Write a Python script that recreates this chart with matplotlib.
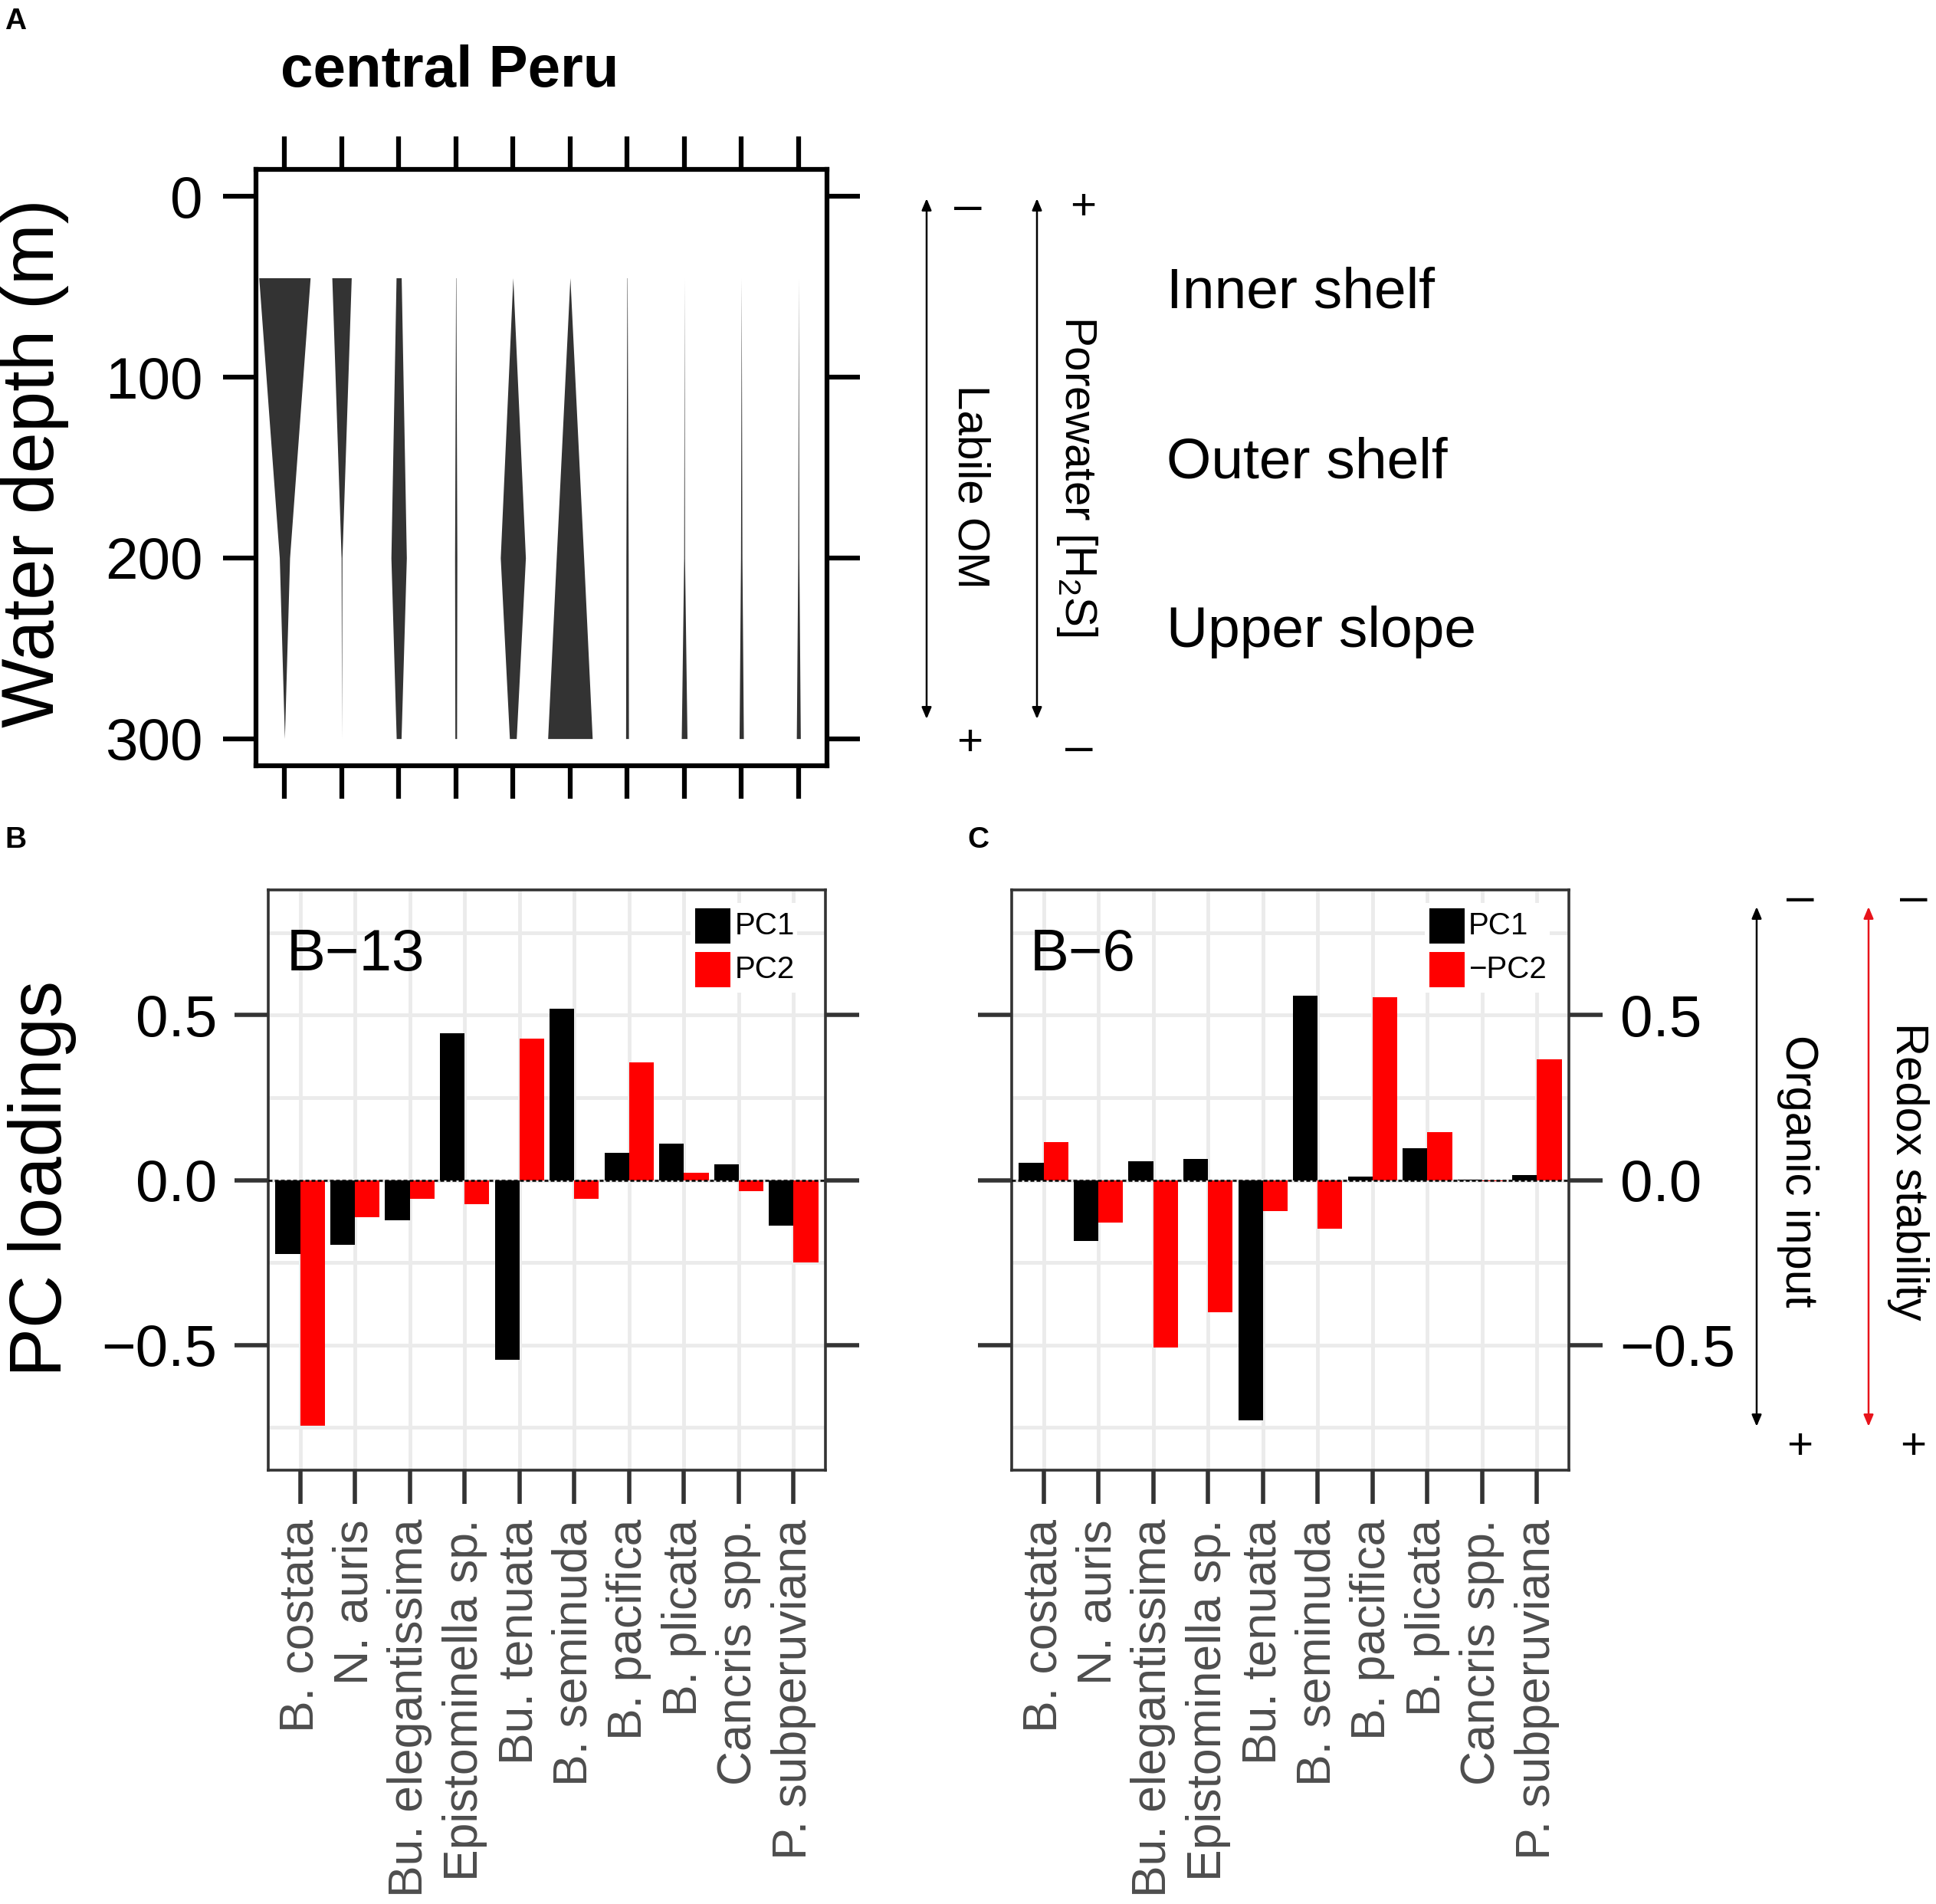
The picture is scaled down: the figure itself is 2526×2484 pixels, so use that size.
import matplotlib
matplotlib.use('Agg')
import matplotlib.pyplot as plt
import numpy as np
from matplotlib.patches import Rectangle, FancyArrowPatch

plt.rcParams['font.family'] = ['Liberation Sans', 'DejaVu Sans']
plt.rcParams['mathtext.fontset'] = 'custom'
plt.rcParams['mathtext.rm'] = 'Liberation Sans'
plt.rcParams['mathtext.it'] = 'Liberation Sans:italic'

# ---------------- data ----------------
species = ["B. costata", "N. auris", "Bu. elegantissima", "Epistominella sp.",
           "Bu. tenuata", "B. seminuda", "B. pacifica", "B. plicata",
           "Cancris spp.", "P. subperuviana"]

# panel A: kite widths (relative abundance) at the three station depths
depths = [45, 200, 300]
abund_45 = [0.90, 0.34, 0.09, 0.005, 0.0, 0.0, 0.005, 0.0, 0.0, 0.0]
abund_200 = [0.18, 0.015, 0.27, 0.04, 0.44, 0.48, 0.04, 0.015, 0.025, 0.02]
abund_300 = [0.0, 0.0, 0.085, 0.03, 0.12, 0.78, 0.05, 0.10, 0.075, 0.07]
depth_ticks = [0, 100, 200, 300]

# panel B: B-13 loadings
b13_pc1 = [-0.224, -0.196, -0.123, 0.446, -0.545, 0.520, 0.083, 0.110, 0.047, -0.138]
b13_pc2 = [-0.744, -0.112, -0.058, -0.074, 0.429, -0.057, 0.356, 0.023, -0.033, -0.249]
# panel C: B-6 loadings
b6_pc1 = [0.053, -0.185, 0.056, 0.063, -0.730, 0.558, 0.011, 0.097, 0.002, 0.014]
b6_negpc2 = [0.115, -0.130, -0.509, -0.400, -0.094, -0.147, 0.554, 0.146, -0.003, 0.367]
load_ticks = [-0.5, 0.0, 0.5]
load_ticklabels = ["\u22120.5", "0.0", "0.5"]

# ---------------- figure ----------------
W, H = 2526, 2484
DPI = 100
fig = plt.figure(figsize=(W / DPI, H / DPI), dpi=DPI)
fig.patch.set_facecolor('white')


def fx(px):
    return px / W


def fy(py):
    return 1 - py / H


def box(l, t, r, b):
    return [fx(l), fy(b), (r - l) / W, (b - t) / H]


# ---------------- panel A ----------------
axA = fig.add_axes(box(334, 221, 1079, 999))
xpos = np.arange(1, len(species) + 1)
for i, x in enumerate(xpos):
    w = np.array([abund_45[i], abund_200[i], abund_300[i]])
    axA.fill_betweenx(depths, x - w / 2, x + w / 2, color='#333333', lw=0)
axA.set_xlim(0.5, 10.5)
axA.set_ylim(315, -15)
axA.set_xticks(xpos)
axA.set_xticklabels([])
axA.set_yticks(depth_ticks)
axA.set_yticklabels([str(t) for t in depth_ticks], fontsize=55)
axA.tick_params(axis='both', direction='out', length=31, width=4.5, color='black',
                top=True, bottom=True, left=True, right=True, pad=19)
for s in axA.spines.values():
    s.set_linewidth(4.5)
    s.set_color('black')
fig.text(fx(45), fy(604), "Water depth (m)", rotation=90, ha='center', va='center', fontsize=69)
fig.text(fx(366), fy(113), "central Peru", fontsize=55, fontweight='bold', va='baseline', ha='left')
fig.text(fx(6), fy(38), "A", fontsize=28, fontweight='bold', va='baseline', ha='left')


def darrow(x, y0, y1, color='black'):
    a = FancyArrowPatch((fx(x), fy(y0)), (fx(x), fy(y1)), transform=fig.transFigure,
                        arrowstyle='<|-|>,head_length=0.9,head_width=0.38',
                        mutation_scale=10, lw=1.8, color=color, shrinkA=0, shrinkB=0)
    fig.add_artist(a)


darrow(1209, 259, 938)
darrow(1353, 259, 938)
fig.text(fx(1263), fy(271), "\u2013", fontsize=46, ha='center', va='center')
fig.text(fx(1265), fy(970), "+", fontsize=42, ha='center', va='center')
fig.text(fx(1413), fy(271), "+", fontsize=42, ha='center', va='center')
fig.text(fx(1408), fy(977), "\u2013", fontsize=46, ha='center', va='center')
fig.text(fx(1265), fy(635), "Labile OM", rotation=270, fontsize=42, ha='center', va='center')
fig.text(fx(1405), fy(621), "Porewater [H$_\\mathrm{2}$S]", rotation=270, fontsize=42,
         ha='center', va='center')
fig.text(fx(1522), fy(402), "Inner shelf", fontsize=54, ha='left', va='baseline')
fig.text(fx(1522), fy(624), "Outer shelf", fontsize=54, ha='left', va='baseline')
fig.text(fx(1522), fy(844), "Upper slope", fontsize=54, ha='left', va='baseline')


# ---------------- panels B and C ----------------
def loading_panel(ax, pc1, pc2, label, leg2, key_x, txt_x, box_l, box_r, right_labels):
    ax.set_axisbelow(True)
    bw = 0.45
    ax.bar(xpos - bw / 2, pc1, width=bw, color='black', lw=0, zorder=2)
    ax.bar(xpos + bw / 2, pc2, width=bw, color='#FF0000', lw=0, zorder=2)
    ax.axhline(0, color='black', lw=1.8, ls=(0, (2.0, 1.2)), zorder=3)
    ax.set_xlim(0.42, 10.58)
    ax.set_ylim(-0.88, 0.88)
    ax.set_xticks(xpos)
    ax.set_xticklabels(species, rotation=90, fontsize=45, color='#4D4D4D')
    ax.set_yticks(load_ticks)
    ax.set_yticks([-0.75, -0.25, 0.25, 0.75], minor=True)
    ax.set_yticklabels(load_ticklabels, fontsize=55)
    ax.grid(True, which='both', color='#EBEBEB', lw=3.5)
    ax.tick_params(axis='y', which='minor', length=0)
    ax.tick_params(axis='both', which='major', direction='out', length=32, width=4,
                   color='#333333', left=True, right=True, bottom=True, top=False)
    ax.tick_params(axis='y', which='major', pad=16, labelleft=not right_labels,
                   labelright=right_labels)
    ax.tick_params(axis='x', which='major', pad=14)
    for s in ax.spines.values():
        s.set_linewidth(2.6)
        s.set_color('#333333')
    ax.text(0.032, 0.861, label, transform=ax.transAxes, fontsize=55, va='baseline', ha='left')
    # legend
    ax.add_patch(Rectangle((box_l, 0.823), box_r - box_l, 0.1545, transform=ax.transAxes,
                           facecolor='white', edgecolor='none', zorder=4))
    ax.add_patch(Rectangle((key_x, 0.9075), 0.0633, 0.0608, transform=ax.transAxes,
                           facecolor='black', edgecolor='none', zorder=5))
    ax.add_patch(Rectangle((key_x, 0.832), 0.0633, 0.0608, transform=ax.transAxes,
                           facecolor='#FF0000', edgecolor='none', zorder=5))
    ax.text(txt_x, 0.938, "PC1", transform=ax.transAxes, fontsize=29, va='center',
            ha='left', zorder=6)
    ax.text(txt_x, 0.8626, leg2, transform=ax.transAxes, fontsize=29, va='center',
            ha='left', zorder=6)


axB = fig.add_axes(box(350, 1161, 1077, 1918))
loading_panel(axB, b13_pc1, b13_pc2, "B\u221213", "PC2", 0.766, 0.838, 0.758, 0.949, False)
axC = fig.add_axes(box(1320, 1161, 2047, 1918))
loading_panel(axC, b6_pc1, b6_negpc2, "B\u22126", "\u2212PC2", 0.750, 0.820, 0.741, 0.966, True)

fig.text(fx(55), fy(1538), "PC loadings", rotation=90, ha='center', va='center', fontsize=69)
fig.text(fx(6), fy(1106), "B", fontsize=28, fontweight='bold', va='baseline', ha='left')
fig.text(fx(1262), fy(1106), "C", fontsize=28, fontweight='bold', va='baseline', ha='left')

darrow(2292, 1183, 1861)
darrow(2438, 1183, 1861, color='#E8131B')
fig.text(fx(2349), fy(1173), "\u2013", fontsize=46, ha='center', va='center')
fig.text(fx(2497), fy(1173), "\u2013", fontsize=46, ha='center', va='center')
fig.text(fx(2348), fy(1888), "+", fontsize=42, ha='center', va='center')
fig.text(fx(2496), fy(1888), "+", fontsize=42, ha='center', va='center')
fig.text(fx(2345), fy(1528), "Organic input", rotation=270, fontsize=43, ha='center', va='center')
fig.text(fx(2490), fy(1528), "Redox stability", rotation=270, fontsize=43, ha='center', va='center')

fig.savefig("out.png", dpi=DPI, facecolor='white')
